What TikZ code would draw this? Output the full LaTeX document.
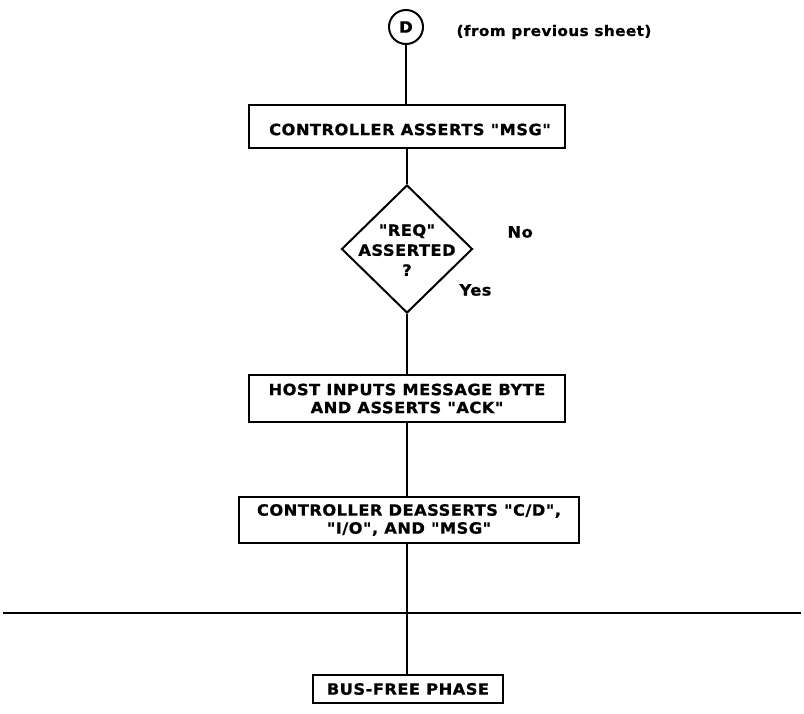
\documentclass[tikz,border=0pt]{standalone}
\usepackage{fontspec}
\setmainfont{DejaVu Sans}[FakeStretch=1.05,LetterSpace=3,Ligatures=TeXOff,BoldFeatures={FakeBold=0.8}]
\usetikzlibrary{shapes.geometric}
\begin{document}
\begin{tikzpicture}[x=1pt,y=-1pt,
  txt/.style={font=\bfseries\fontsize{15.5}{18}\selectfont, text=black},
  stepbox/.style={draw, line width=1.8pt, rectangle, inner sep=0pt, align=center, txt},
  decision/.style={draw, line width=2pt, diamond, inner sep=0pt, minimum width=131pt, minimum height=128pt},
  connector/.style={draw, circle, line width=2pt, minimum size=34pt, inner sep=0pt, txt},
  flow/.style={line width=2.2pt}]
\useasboundingbox (0,0) rectangle (804,714);

% off-sheet connector
\node[connector] (d) at (406,27) {D};
\node[txt, font=\bfseries\fontsize{14.5}{17}\selectfont, anchor=west] (dnote) at (453,32) {(from previous sheet)};

% process steps
\node[stepbox, minimum width=316pt, minimum height=43pt] (msg) at (407,126.5) {};
\node[txt] (msgtext) at (410,129.5) {CONTROLLER ASSERTS "MSG"};
\node[decision] (req) at (407,249) {};
\node[txt, align=center, inner sep=0pt, font=\bfseries\fontsize{15.5}{20}\selectfont] (reqtext) at (407,250)
  {"REQ"\\ASSERTED\\?};
\node[txt, anchor=west] (no) at (504,232) {No};
\node[txt, anchor=west] (yes) at (456,290) {Yes};
\node[stepbox, minimum width=316pt, minimum height=47pt] (host) at (407,398.5)
  {HOST INPUTS MESSAGE BYTE\\AND ASSERTS "ACK"};
\node[stepbox, minimum width=340pt, minimum height=46pt] (deassert) at (409,520)
  {CONTROLLER DEASSERTS "C/D",\\"I/O", AND "MSG"};
\node[stepbox, minimum width=190pt, minimum height=28pt] (busfree) at (408,689)
  {BUS-FREE PHASE};

% sheet separator
\coordinate (sepL) at (3,613);
\coordinate (sepR) at (801,613);
\draw[line width=1.8pt] (sepL) -- (sepR);

% flow lines
\draw[flow] (d) -- (d |- msg.north);
\draw[flow] (msg) -- (req);
\draw[flow] (req) -- (host);
\draw[flow] (host) -- (host |- deassert.north);
\draw[flow] (host |- deassert.south) -- (host |- busfree.north);
\end{tikzpicture}
\end{document}
